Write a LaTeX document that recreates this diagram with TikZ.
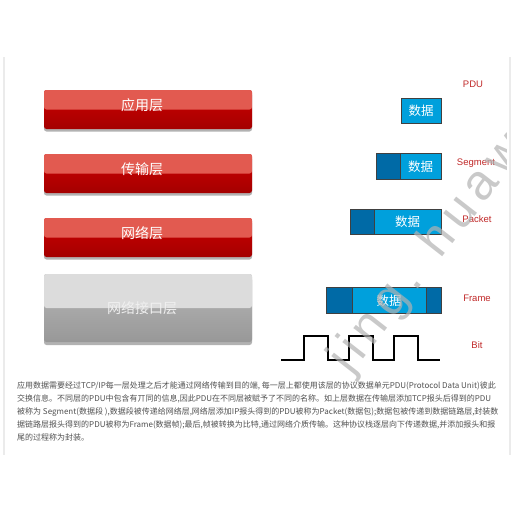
\documentclass[tikz,border=0pt]{standalone}
\usepackage{fontspec}
\setmainfont{Liberation Sans}
\newfontfamily\cjk{Noto Sans CJK SC}
\newfontfamily\markfont[LetterSpace=14]{Liberation Sans}
\usepackage{tikz}
\usetikzlibrary{positioning,calc,shadows}

\definecolor{barred}{RGB}{226,90,80}
\definecolor{bardark}{RGB}{206,0,0}
\definecolor{bardeep}{RGB}{164,0,0}
\definecolor{barlight}{RGB}{220,220,220}
\definecolor{graymid}{RGB}{184,184,184}
\definecolor{graydeep}{RGB}{152,152,152}
\definecolor{pdulight}{RGB}{0,160,220}
\definecolor{pdudark}{RGB}{0,106,166}
\definecolor{pdured}{RGB}{192,40,40}
\definecolor{bodytext}{RGB}{80,80,80}

\begin{document}
\begin{tikzpicture}[x=1pt,y=-1pt,
    redbar/.style={minimum width=208pt,minimum height=39pt,rounded corners=2.5pt,
      top color=bardark,bottom color=bardeep,
      drop shadow={shadow xshift=0pt,shadow yshift=-2.5pt,fill=black,opacity=0.3},
      path picture={\fill[barred] (path picture bounding box.north west)
        rectangle (path picture bounding box.east);}},
    graybar/.style={minimum width=208pt,minimum height=68pt,rounded corners=2.5pt,
      top color=graymid,bottom color=graydeep,
      drop shadow={shadow xshift=0pt,shadow yshift=-3pt,fill=black,opacity=0.3},
      path picture={\fill[barlight] (path picture bounding box.north west)
        rectangle (path picture bounding box.east);}},
    bartext/.style={text=white,font=\cjk\fontsize{14}{14}\selectfont,inner sep=0pt},
    cell/.style={draw=black!75,line width=1pt,minimum height=25.5pt,
      outer sep=0pt,inner sep=0pt},
    datacell/.style={cell,fill=pdulight,text=white,font=\cjk\fontsize{12.5}{12.5}\selectfont},
    headcell/.style={cell,fill=pdudark},
    pduname/.style={text=pdured,font=\fontsize{9.5}{9.5}\selectfont,inner sep=0pt},
    watermark/.style={text=black!30,opacity=0.7,font=\markfont\fontsize{50}{50}\selectfont,inner sep=0pt}
  ]
  \useasboundingbox (0,0) rectangle (512,512);
  % panel edges
  \draw[black!8,line width=1.5pt] (4,57) -- (4,455);
  \draw[black!8,line width=1.5pt] (510,57) -- (510,455);

  % layers
  \node[redbar] (app) at (148,109.5) {};
  \node[redbar] (trans) at (148,173.5) {};
  \node[redbar] (net) at (148,237.5) {};
  \node[graybar] (link) at (148,308) {};
  \node[bartext] (appname) at ($(app.center)+(-6,-4)$) {应用层};
  \node[bartext] (transname) at ($(trans.center)+(-6,-4)$) {传输层};
  \node[bartext] (netname) at ($(net.center)+(-6,-4)$) {网络层};
  \node[bartext,text=white!94!black] (linkname) at ($(link.center)+(-6,0)$) {网络接口层};

  % PDUs
  \node[datacell,minimum width=40pt] (data1) at (421,111) {数据};
  \node[datacell,minimum width=41pt] (data2) at (420.5,166.5) {数据};
  \node[headcell,minimum width=24pt,left=0pt of data2] (tcphead) {};
  \node[datacell,minimum width=67pt] (data3) at (407.5,222) {数据};
  \node[headcell,minimum width=24pt,left=0pt of data3] (iphead) {};
  \node[datacell,minimum width=74pt] (data4) at (389,300.5) {数据};
  \node[headcell,minimum width=26pt,left=0pt of data4] (machead) {};
  \node[headcell,minimum width=15pt,right=0pt of data4] (mactail) {};

  % bits
  \draw[line width=1.5pt] (281,360) -- (304,360) -- (304,336) -- (328,336) -- (328,360)
    -- (349,360) -- (349,336) -- (373,336) -- (373,360)
    -- (394,360) -- (394,336) -- (418,336) -- (418,360) -- (440,360);

  % names
  \node[pduname] (pdu) at (473,84) {PDU};
  \node[pduname] (segment) at (476,163) {Segment};
  \node[pduname] (packet) at (477,219) {Packet};
  \node[pduname] (frame) at (477,298) {Frame};
  \node[pduname] (bit) at (477,345) {Bit};

  % text
  \node[anchor=north west,align=left,inner sep=0pt,text=bodytext,
    font=\cjk\fontsize{8}{13}\selectfont] (note) at (17,381) {%
    应用数据需要经过TCP/IP每一层处理之后才能通过网络传输到目的端, 每一层上都使用该层的协议数据单元PDU(Protocol Data Unit)彼此\\
    交换信息。不同层的PDU中包含有丌同的信息,因此PDU在不同层被赋予了不同的名称。如上层数据在传输层添加TCP报头后得到的PDU\\
    被称为 Segment(数据段 ),数据段被传递给网络层,网络层添加IP报头得到的PDU被称为Packet(数据包);数据包被传递到数据链路层,封装数\\
    据链路层报头得到的PDU被称为Frame(数据帧);最后,帧被转换为比特,通过网络介质传输。这种协议栈逐层向下传递数据,并添加报头和报\\
    尾的过程称为封装。};

  % watermark
  \begin{scope}
    \clip (0,57) rectangle (506,455);
    \node[watermark,rotate=52,anchor=base west] (mark) at (350,376) {jing. huawei};
  \end{scope}
\end{tikzpicture}
\end{document}
